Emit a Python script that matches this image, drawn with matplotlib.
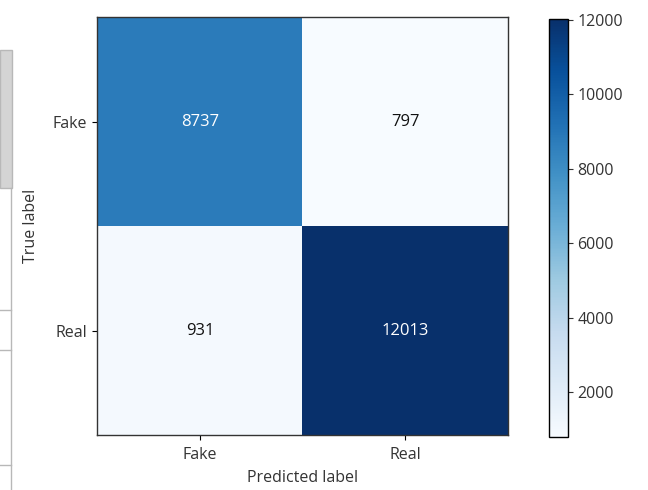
import matplotlib
matplotlib.use("Agg")
import matplotlib.pyplot as plt
import numpy as np
from matplotlib.patches import Rectangle
from matplotlib.lines import Line2D

plt.rcParams['font.family'] = ['Open Sans', 'DejaVu Sans']

# Confusion matrix counts
classes = ["Fake", "Real"]
counts = [[8737, 797],
          [931, 12013]]
cbar_ticks = [2000, 4000, 6000, 8000, 10000, 12000]

cm = np.array(counts)

fig = plt.figure(figsize=(6.48, 4.9), dpi=100)
ax = fig.add_axes([0.150, 0.112, 0.634, 0.853])
cax = fig.add_axes([0.847, 0.108, 0.029, 0.853])

im = ax.imshow(cm, interpolation="nearest", cmap="Blues", aspect="auto")
cb = fig.colorbar(im, cax=cax, ticks=cbar_ticks)
cb.ax.tick_params(labelsize=11.5, colors="#333333")
cb.outline.set_linewidth(1.0)

ax.set_xticks(np.arange(len(classes)))
ax.set_yticks(np.arange(len(classes)))
ax.set_xticklabels(classes, fontsize=11.5, color="#333333")
ax.set_yticklabels(classes, fontsize=11.5, color="#333333")
ax.tick_params(axis="x", pad=5)
ax.set_xlabel("Predicted label", fontsize=11.5, labelpad=5, color="#333333")
ax.set_ylabel("True label", fontsize=11.5, labelpad=10, color="#333333")

thresh = cm.max() / 2.0
for i in range(cm.shape[0]):
    for j in range(cm.shape[1]):
        ax.text(j, i, f"{cm[i, j]}", ha="center", va="center", fontsize=12,
                color="white" if cm[i, j] > thresh else "#111111")

for s in ax.spines.values():
    s.set_linewidth(1.0)
    s.set_color("#333333")

# page furniture along the left margin
fig.patches.append(Rectangle((0, 1 - 188 / 490), 12 / 648, 138 / 490,
                             transform=fig.transFigure, facecolor="#d4d4d4",
                             edgecolor="#b8b8b8", linewidth=1.0))
fig.lines.append(Line2D([11 / 648, 11 / 648], [0, 1 - 188 / 490],
                        transform=fig.transFigure, color="#b8b8b8", linewidth=1.0))
for yy in (310, 350, 465):
    fig.lines.append(Line2D([0, 11 / 648], [1 - yy / 490, 1 - yy / 490],
                            transform=fig.transFigure, color="#b8b8b8", linewidth=1.0))

fig.savefig("out.png", dpi=100)
